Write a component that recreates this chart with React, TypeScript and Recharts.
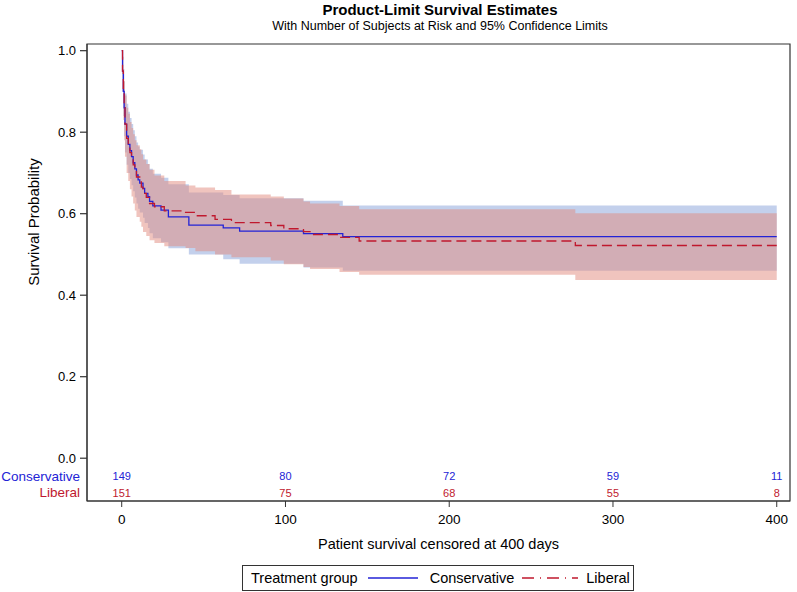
import { ComposedChart, XAxis, YAxis, Line, Area, ReferenceDot, ReferenceArea } from "recharts";

const consTime = [0, 0.5, 1, 1.5, 2, 3, 4, 5, 6, 7, 8, 9, 10, 11, 13, 14, 16, 17, 19, 24, 28.5, 41, 62, 72, 111, 135, 400];
const consSurv = [1, 0.95, 0.9, 0.86, 0.82, 0.79, 0.77, 0.755, 0.74, 0.725, 0.71, 0.695, 0.683, 0.675, 0.662, 0.65, 0.642, 0.63, 0.619, 0.609, 0.592, 0.572, 0.565, 0.557, 0.551, 0.5435, 0.5435];
const consUpper = [1, 0.985, 0.955, 0.925, 0.895, 0.87, 0.85, 0.835, 0.82, 0.805, 0.79, 0.775, 0.765, 0.757, 0.745, 0.733, 0.722, 0.71, 0.698, 0.688, 0.672, 0.652, 0.646, 0.638, 0.632, 0.62, 0.62];
const consLower = [1, 0.9, 0.84, 0.79, 0.75, 0.72, 0.7, 0.685, 0.67, 0.655, 0.64, 0.625, 0.612, 0.603, 0.59, 0.577, 0.565, 0.552, 0.54, 0.53, 0.515, 0.5, 0.488, 0.477, 0.468, 0.46, 0.46];

const libTime = [0, 0.5, 1, 1.5, 2, 3, 4, 5, 6, 7, 8, 9, 11, 12, 13, 15, 17, 20, 26, 39, 45, 57, 67, 91, 99, 111, 115, 133, 145, 277, 400];
const libSurv = [1, 0.95, 0.9, 0.86, 0.82, 0.785, 0.77, 0.75, 0.735, 0.72, 0.705, 0.69, 0.678, 0.665, 0.65, 0.64, 0.625, 0.617, 0.607, 0.603, 0.595, 0.586, 0.578, 0.571, 0.563, 0.556, 0.549, 0.542, 0.533, 0.522, 0.522];
const libUpper = [1, 0.985, 0.955, 0.925, 0.89, 0.86, 0.845, 0.825, 0.81, 0.795, 0.78, 0.768, 0.758, 0.746, 0.733, 0.722, 0.708, 0.694, 0.68, 0.669, 0.664, 0.658, 0.647, 0.642, 0.637, 0.63, 0.625, 0.619, 0.611, 0.601, 0.601];
const libLower = [1, 0.9, 0.83, 0.78, 0.74, 0.7, 0.68, 0.66, 0.642, 0.625, 0.608, 0.592, 0.58, 0.568, 0.555, 0.545, 0.535, 0.528, 0.52, 0.516, 0.508, 0.5, 0.493, 0.485, 0.476, 0.469, 0.464, 0.457, 0.45, 0.437, 0.437];

const xTicks = [0, 100, 200, 300, 400];
const consAtRisk = [149, 80, 72, 59, 11];
const libAtRisk = [151, 75, 68, 55, 8];
const probTicks = [0, 0.2, 0.4, 0.6, 0.8, 1.0];

const BLUE = "#2323d6";
const RED = "#c0182e";
const FONT = "'Liberation Sans', Arial, sans-serif";

// rows of the at-risk table sit below 0 on the y scale
const consRow = -0.0437;
const libRow = -0.0847;
const xDomain = [-21.2, 408.1];
const yDomain = [-0.105, 1.0164];

const consData = consTime.map((t, i) => ({ t, s: consSurv[i], band: [consLower[i], consUpper[i]] }));
const libData = libTime.map((t, i) => ({ t, s: libSurv[i], band: [libLower[i], libUpper[i]] }));

function YTick(props: any) {
  const { x, y, payload } = props;
  const v = payload.value;
  if (v < 0) {
    const cons = Math.abs(v - consRow) < 1e-6;
    return (
      <text x={x - 7} y={y} textAnchor="end" dominantBaseline="central" fontSize={13.5} fontFamily={FONT} fill={cons ? BLUE : RED}>
        {cons ? "Conservative" : "Liberal"}
      </text>
    );
  }
  return (
    <g>
      <line x1={x - 7} x2={x} y1={y} y2={y} stroke="#333" strokeWidth={1.2} />
      <text x={x - 11} y={y} textAnchor="end" dominantBaseline="central" fontSize={13} fontFamily={FONT} fill="#000">
        {v.toFixed(1)}
      </text>
    </g>
  );
}

function riskText(value: number, color: string) {
  return (p: any) => (
    <text x={p.cx} y={p.cy} textAnchor="middle" dominantBaseline="central" fontSize={11} fontFamily={FONT} fill={color}>
      {value}
    </text>
  );
}

export default function App() {
  return (
    <div style={{ position: "absolute", left: 0, top: 0, width: 797, height: 592, background: "#fff", fontFamily: FONT }}>
      <div style={{ position: "absolute", left: 240, width: 400, top: 1, textAlign: "center", fontSize: 15, fontWeight: "bold" }}>
        Product-Limit Survival Estimates
      </div>
      <div style={{ position: "absolute", left: 190, width: 500, top: 19, textAlign: "center", fontSize: 12.5 }}>
        With Number of Subjects at Risk and 95% Confidence Limits
      </div>
      <div
        style={{
          position: "absolute",
          left: 33,
          top: 222,
          transform: "translate(-50%, -50%) rotate(-90deg)",
          fontSize: 15,
          whiteSpace: "nowrap",
        }}
      >
        Survival Probability
      </div>

      <ComposedChart width={797} height={592} margin={{ top: 44, right: 7, bottom: 51, left: 0 }}>
        <XAxis
          type="number"
          dataKey="t"
          domain={xDomain}
          allowDataOverflow
          ticks={xTicks}
          interval={0}
          tickSize={6}
          tickMargin={7}
          height={40}
          stroke="#333"
          tick={{ fill: "#000", fontSize: 13.5, fontFamily: FONT }}
          label={{ value: "Patient survival censored at 400 days", position: "bottom", offset: -2, fill: "#000", fontSize: 14.5, fontFamily: FONT }}
        />
        <YAxis
          type="number"
          domain={yDomain}
          allowDataOverflow
          ticks={[libRow, consRow, ...probTicks]}
          interval={0}
          width={87}
          tickLine={false}
          tickSize={0}
          tickMargin={0}
          stroke="#333"
          tick={<YTick />}
        />
        <ReferenceArea x1={xDomain[0]} x2={xDomain[1]} y1={yDomain[0]} y2={yDomain[1]} fill="none" stroke="#333" strokeWidth={1.2} />
        <Area data={consData} dataKey="band" type="stepAfter" stroke="none" fill="#87a1d9" fillOpacity={0.5} isAnimationActive={false} />
        <Area data={libData} dataKey="band" type="stepAfter" stroke="none" fill="#e1897d" fillOpacity={0.5} isAnimationActive={false} />
        <Line data={consData} dataKey="s" type="stepAfter" stroke={BLUE} strokeWidth={1.3} dot={false} isAnimationActive={false} />
        <Line data={libData} dataKey="s" type="stepAfter" stroke={RED} strokeWidth={1.3} strokeDasharray="10 5" dot={false} isAnimationActive={false} />
        {xTicks.map((t, i) => (
          <ReferenceDot key={"c" + t} x={t} y={consRow} r={0} shape={riskText(consAtRisk[i], BLUE)} />
        ))}
        {xTicks.map((t, i) => (
          <ReferenceDot key={"l" + t} x={t} y={libRow} r={0} shape={riskText(libAtRisk[i], RED)} />
        ))}
      </ComposedChart>

      <div
        style={{
          position: "absolute",
          left: 242,
          top: 565,
          width: 390,
          height: 24,
          border: "1px solid #333",
          display: "flex",
          alignItems: "center",
          fontSize: 14.5,
          whiteSpace: "nowrap",
        }}
      >
        <span style={{ marginLeft: 8 }}>Treatment group</span>
        <svg width={52} height={10} style={{ marginLeft: 10 }}>
          <line x1={0} x2={50} y1={5} y2={5} stroke={BLUE} strokeWidth={1.3} />
        </svg>
        <span style={{ marginLeft: 10 }}>Conservative</span>
        <svg width={58} height={10} style={{ marginLeft: 8 }}>
          <line x1={0} x2={56} y1={5} y2={5} stroke={RED} strokeWidth={1.3} strokeDasharray="12 6 1 6" />
        </svg>
        <span style={{ marginLeft: 6 }}>Liberal</span>
      </div>
    </div>
  );
}
